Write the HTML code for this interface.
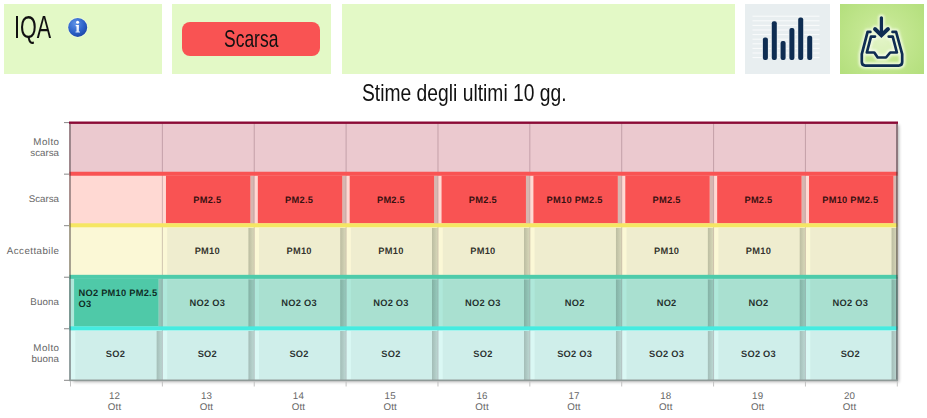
<!DOCTYPE html>
<html><head><meta charset="utf-8"><title>IQA</title>
<style>
html,body{margin:0;padding:0;background:#fff;}
body{width:927px;height:418px;position:relative;overflow:hidden;font-family:"Liberation Sans",sans-serif;}
.abs{position:absolute;}
.box{position:absolute;top:4px;height:69.5px;background:#e3f9c6;}
.nar{position:absolute;white-space:nowrap;transform-origin:0 0;color:#111;line-height:1;}
.ylab{position:absolute;right:868px;text-align:right;font-size:9.75px;text-rendering:geometricPrecision;line-height:11px;color:#666;white-space:nowrap;}
.xlab{position:absolute;width:60px;text-align:center;font-size:9.75px;text-rendering:geometricPrecision;line-height:11.1px;letter-spacing:0.15px;color:#666;top:391px;}
.bl{position:absolute;text-rendering:geometricPrecision;font-weight:bold;font-size:9.3px;line-height:11.2px;color:rgba(0,0,0,0.8);white-space:nowrap;letter-spacing:0.24px;}
.bar{position:absolute;}
.sh{position:absolute;width:5px;background:linear-gradient(90deg,rgba(30,40,30,0.20),rgba(30,40,30,0.33));}
</style></head><body>

<div class="box" style="left:4px;width:157.5px"></div>
<div class="box" style="left:172px;width:158.5px"></div>
<div class="box" style="left:341.5px;width:393.7px"></div>
<div class="box" style="left:745px;width:85px;background:#e8eef0"></div>
<div class="box" style="left:840px;width:83.7px;background:radial-gradient(circle at 50% 50%,#d6f0ae 0%,#c2e68f 45%,#b3df7c 100%)"></div>
<div class="nar" id="iqa" style="left:14.2px;top:11.1px;font-size:32px;transform:scaleX(0.674)">IQA</div>
<svg class="abs" style="left:66px;top:16px" width="24" height="24" viewBox="0 0 24 24">
<defs><radialGradient id="ig" cx="0.38" cy="0.3" r="0.85"><stop offset="0" stop-color="#5e93e6"/><stop offset="0.55" stop-color="#2b61c8"/><stop offset="1" stop-color="#163c98"/></radialGradient>
<linearGradient id="il" x1="0" y1="0" x2="0" y2="1"><stop offset="0" stop-color="#fff"/><stop offset="1" stop-color="#cfe0fa"/></linearGradient></defs>
<circle cx="11.7" cy="11.4" r="10.3" fill="#f3fbe6" opacity="0.6"/>
<circle cx="11.7" cy="11.4" r="9.5" fill="url(#ig)"/>
<circle cx="11.6" cy="6.3" r="1.55" fill="#fff"/>
<path d="M9.7 9.1 H12.9 V15.4 H14 V16.6 H9.5 V15.4 H10.5 V10.3 H9.7 Z" fill="url(#il)"/>
</svg>
<div class="abs" style="left:182px;top:21.6px;width:138px;height:34px;border-radius:8px;background:#f95353"></div>
<div class="nar" id="scarsa" style="left:223.6px;top:27.0px;font-size:24.4px;transform:scaleX(0.716)">Scarsa</div>
<div class="nar" id="title" style="left:361.6px;top:81.2px;font-size:24px;transform:scaleX(0.803)">Stime degli ultimi 10 gg.</div>
<svg class="abs" style="left:745px;top:4px" width="85" height="69.5" viewBox="745 4 85 69.5"><line x1="752.5" x2="819.5" y1="16.2" y2="16.2" stroke="#fff" stroke-width="1" opacity="0.75"/><line x1="752.5" x2="819.5" y1="20.8" y2="20.8" stroke="#fff" stroke-width="1" opacity="0.75"/><line x1="752.5" x2="819.5" y1="25.4" y2="25.4" stroke="#fff" stroke-width="1" opacity="0.75"/><line x1="752.5" x2="819.5" y1="30.0" y2="30.0" stroke="#fff" stroke-width="1" opacity="0.75"/><line x1="752.5" x2="819.5" y1="34.6" y2="34.6" stroke="#fff" stroke-width="1" opacity="0.75"/><line x1="752.5" x2="819.5" y1="39.2" y2="39.2" stroke="#fff" stroke-width="1" opacity="0.75"/><line x1="752.5" x2="819.5" y1="43.8" y2="43.8" stroke="#fff" stroke-width="1" opacity="0.75"/><line x1="752.5" x2="819.5" y1="48.4" y2="48.4" stroke="#fff" stroke-width="1" opacity="0.75"/><line x1="752.5" x2="819.5" y1="53.0" y2="53.0" stroke="#fff" stroke-width="1" opacity="0.75"/><line x1="752.5" x2="819.5" y1="57.6" y2="57.6" stroke="#fff" stroke-width="1" opacity="0.75"/><rect x="762.9" y="37.5" width="5" height="22.6" rx="2" fill="#0f2d52" stroke="#e8eef0" stroke-width="1.4" paint-order="stroke"/><rect x="771.8" y="21.2" width="5" height="38.9" rx="2" fill="#0f2d52" stroke="#e8eef0" stroke-width="1.4" paint-order="stroke"/><rect x="780.6" y="41.1" width="5" height="19.0" rx="2" fill="#0f2d52" stroke="#e8eef0" stroke-width="1.4" paint-order="stroke"/><rect x="789.4" y="27.9" width="5" height="32.2" rx="2" fill="#0f2d52" stroke="#e8eef0" stroke-width="1.4" paint-order="stroke"/><rect x="798.2" y="17.4" width="5" height="42.7" rx="2" fill="#0f2d52" stroke="#e8eef0" stroke-width="1.4" paint-order="stroke"/><rect x="807.2" y="35.8" width="5" height="24.3" rx="2" fill="#0f2d52" stroke="#e8eef0" stroke-width="1.4" paint-order="stroke"/></svg>
<svg class="abs" style="left:840px;top:4px" width="84" height="70" viewBox="840 4 84 70">
<defs><filter id="bl" x="-20%" y="-20%" width="140%" height="140%"><feGaussianBlur stdDeviation="1.1"/></filter></defs>
<g fill="none" stroke="#f1fbe0" stroke-width="6.5" stroke-linejoin="round" stroke-linecap="round" opacity="0.9" filter="url(#bl)"><path d="M870.4 31.9 H867.6 L861.8 54.2 V62.1 Q861.8 65.6 865.3 65.6 H898.7 Q902.2 65.6 902.2 62.1 V54.2 L896.1 31.9 H892.5"/><path d="M875 36.6 H871 L866.8 52.5 H874.3 L877.7 57.5 H886 L890.2 52.5 H896.9 L892.7 36.6 H888.7"/><path d="M881.4 17.8 V34 M875 29 L881.4 35.2 L888 29"/></g>
<path d="M871 36.6 L866.8 52.5 H874.3 L877.7 57.5 H886 L890.2 52.5 H896.9 L892.7 36.6 Z" fill="#fff" opacity="0.3" stroke="none"/>
<g fill="none" stroke="#0f2d52" stroke-width="2.7" stroke-linejoin="round" stroke-linecap="round"><path d="M870.4 31.9 H867.6 L861.8 54.2 V62.1 Q861.8 65.6 865.3 65.6 H898.7 Q902.2 65.6 902.2 62.1 V54.2 L896.1 31.9 H892.5"/><path d="M875 36.6 H871 L866.8 52.5 H874.3 L877.7 57.5 H886 L890.2 52.5 H896.9 L892.7 36.6 H888.7"/></g>
<path d="M881.4 17.8 V34" fill="none" stroke="#0f2d52" stroke-width="3.3" stroke-linecap="round"/>
<path d="M875 29 L881.4 35.2 L888 29" fill="none" stroke="#0f2d52" stroke-width="3.9" stroke-linejoin="miter" stroke-linecap="round"/>
</svg>
<div class="abs" style="left:70.5px;top:122.6px;width:826.8px;height:257.7px;box-shadow:2px 2px 3px rgba(0,0,0,0.3)"></div>
<svg class="abs" style="left:0;top:0" width="927" height="418" viewBox="0 0 927 418"><defs><linearGradient id="shf" x1="0" y1="0" x2="1" y2="0"><stop offset="0" stop-color="#0c1a10" stop-opacity="0.27"/><stop offset="1" stop-color="#0c1a10" stop-opacity="0.15"/></linearGradient></defs><rect x="69.00" y="122.60" width="829.00" height="51.54" fill="#ebc9cf" /><rect x="69.00" y="174.14" width="829.00" height="51.54" fill="#ffd9d3" /><rect x="69.00" y="225.68" width="829.00" height="51.54" fill="#fbf8d6" /><rect x="69.00" y="277.22" width="829.00" height="51.54" fill="#afe8da" /><rect x="69.00" y="328.76" width="829.00" height="51.54" fill="#daf8f4" /><rect x="161.87" y="122.60" width="1.00" height="257.70" fill="rgb(60,20,35)" fill-opacity="0.22"/><rect x="253.73" y="122.60" width="1.00" height="257.70" fill="rgb(60,20,35)" fill-opacity="0.22"/><rect x="345.60" y="122.60" width="1.00" height="257.70" fill="rgb(60,20,35)" fill-opacity="0.22"/><rect x="437.47" y="122.60" width="1.00" height="257.70" fill="rgb(60,20,35)" fill-opacity="0.22"/><rect x="529.33" y="122.60" width="1.00" height="257.70" fill="rgb(60,20,35)" fill-opacity="0.22"/><rect x="621.20" y="122.60" width="1.00" height="257.70" fill="rgb(60,20,35)" fill-opacity="0.22"/><rect x="713.07" y="122.60" width="1.00" height="257.70" fill="rgb(60,20,35)" fill-opacity="0.22"/><rect x="804.93" y="122.60" width="1.00" height="257.70" fill="rgb(60,20,35)" fill-opacity="0.22"/><rect x="158.47" y="279.12" width="3.60" height="48.74" fill="#140a08" fill-opacity="0.17"/><rect x="74.10" y="278.62" width="84.37" height="47.74" fill="#4fc9a8" /><rect x="156.37" y="330.96" width="5.60" height="50.04" fill="url(#shf)" /><rect x="75.30" y="330.96" width="81.07" height="48.54" fill="#cfeeea" /><rect x="250.33" y="176.04" width="3.60" height="48.74" fill="#140a08" fill-opacity="0.17"/><rect x="165.97" y="175.54" width="84.37" height="47.74" fill="#f95353" /><rect x="248.23" y="227.88" width="5.60" height="48.44" fill="url(#shf)" /><rect x="167.17" y="227.88" width="81.07" height="46.94" fill="#efedcf" /><rect x="248.23" y="279.42" width="5.60" height="48.44" fill="url(#shf)" /><rect x="167.17" y="279.42" width="81.07" height="46.94" fill="#a9e0d0" /><rect x="248.23" y="330.96" width="5.60" height="50.04" fill="url(#shf)" /><rect x="167.17" y="330.96" width="81.07" height="48.54" fill="#cfeeea" /><rect x="342.20" y="176.04" width="3.60" height="48.74" fill="#140a08" fill-opacity="0.17"/><rect x="257.83" y="175.54" width="84.37" height="47.74" fill="#f95353" /><rect x="340.10" y="227.88" width="5.60" height="48.44" fill="url(#shf)" /><rect x="259.03" y="227.88" width="81.07" height="46.94" fill="#efedcf" /><rect x="340.10" y="279.42" width="5.60" height="48.44" fill="url(#shf)" /><rect x="259.03" y="279.42" width="81.07" height="46.94" fill="#a9e0d0" /><rect x="340.10" y="330.96" width="5.60" height="50.04" fill="url(#shf)" /><rect x="259.03" y="330.96" width="81.07" height="48.54" fill="#cfeeea" /><rect x="434.07" y="176.04" width="3.60" height="48.74" fill="#140a08" fill-opacity="0.17"/><rect x="349.70" y="175.54" width="84.37" height="47.74" fill="#f95353" /><rect x="431.97" y="227.88" width="5.60" height="48.44" fill="url(#shf)" /><rect x="350.90" y="227.88" width="81.07" height="46.94" fill="#efedcf" /><rect x="431.97" y="279.42" width="5.60" height="48.44" fill="url(#shf)" /><rect x="350.90" y="279.42" width="81.07" height="46.94" fill="#a9e0d0" /><rect x="431.97" y="330.96" width="5.60" height="50.04" fill="url(#shf)" /><rect x="350.90" y="330.96" width="81.07" height="48.54" fill="#cfeeea" /><rect x="525.93" y="176.04" width="3.60" height="48.74" fill="#140a08" fill-opacity="0.17"/><rect x="441.57" y="175.54" width="84.37" height="47.74" fill="#f95353" /><rect x="523.83" y="227.88" width="5.60" height="48.44" fill="url(#shf)" /><rect x="442.77" y="227.88" width="81.07" height="46.94" fill="#efedcf" /><rect x="523.83" y="279.42" width="5.60" height="48.44" fill="url(#shf)" /><rect x="442.77" y="279.42" width="81.07" height="46.94" fill="#a9e0d0" /><rect x="523.83" y="330.96" width="5.60" height="50.04" fill="url(#shf)" /><rect x="442.77" y="330.96" width="81.07" height="48.54" fill="#cfeeea" /><rect x="617.80" y="176.04" width="3.60" height="48.74" fill="#140a08" fill-opacity="0.17"/><rect x="533.43" y="175.54" width="84.37" height="47.74" fill="#f95353" /><rect x="615.70" y="227.88" width="5.60" height="48.44" fill="url(#shf)" /><rect x="534.63" y="227.88" width="81.07" height="46.94" fill="#efedcf" /><rect x="615.70" y="279.42" width="5.60" height="48.44" fill="url(#shf)" /><rect x="534.63" y="279.42" width="81.07" height="46.94" fill="#a9e0d0" /><rect x="615.70" y="330.96" width="5.60" height="50.04" fill="url(#shf)" /><rect x="534.63" y="330.96" width="81.07" height="48.54" fill="#cfeeea" /><rect x="709.67" y="176.04" width="3.60" height="48.74" fill="#140a08" fill-opacity="0.17"/><rect x="625.30" y="175.54" width="84.37" height="47.74" fill="#f95353" /><rect x="707.57" y="227.88" width="5.60" height="48.44" fill="url(#shf)" /><rect x="626.50" y="227.88" width="81.07" height="46.94" fill="#efedcf" /><rect x="707.57" y="279.42" width="5.60" height="48.44" fill="url(#shf)" /><rect x="626.50" y="279.42" width="81.07" height="46.94" fill="#a9e0d0" /><rect x="707.57" y="330.96" width="5.60" height="50.04" fill="url(#shf)" /><rect x="626.50" y="330.96" width="81.07" height="48.54" fill="#cfeeea" /><rect x="801.53" y="176.04" width="3.60" height="48.74" fill="#140a08" fill-opacity="0.17"/><rect x="717.17" y="175.54" width="84.37" height="47.74" fill="#f95353" /><rect x="799.43" y="227.88" width="5.60" height="48.44" fill="url(#shf)" /><rect x="718.37" y="227.88" width="81.07" height="46.94" fill="#efedcf" /><rect x="799.43" y="279.42" width="5.60" height="48.44" fill="url(#shf)" /><rect x="718.37" y="279.42" width="81.07" height="46.94" fill="#a9e0d0" /><rect x="799.43" y="330.96" width="5.60" height="50.04" fill="url(#shf)" /><rect x="718.37" y="330.96" width="81.07" height="48.54" fill="#cfeeea" /><rect x="893.40" y="176.04" width="3.60" height="48.74" fill="#140a08" fill-opacity="0.17"/><rect x="809.03" y="175.54" width="84.37" height="47.74" fill="#f95353" /><rect x="891.30" y="227.88" width="5.60" height="48.44" fill="url(#shf)" /><rect x="810.23" y="227.88" width="81.07" height="46.94" fill="#efedcf" /><rect x="891.30" y="279.42" width="5.60" height="48.44" fill="url(#shf)" /><rect x="810.23" y="279.42" width="81.07" height="46.94" fill="#a9e0d0" /><rect x="891.30" y="330.96" width="5.60" height="50.04" fill="url(#shf)" /><rect x="810.23" y="330.96" width="81.07" height="48.54" fill="#cfeeea" /><rect x="69.50" y="171.74" width="828.00" height="4.00" fill="#f95353" /><rect x="69.50" y="223.28" width="828.00" height="4.00" fill="#f5e663" /><rect x="69.50" y="274.82" width="828.00" height="4.00" fill="#4ecbaa" /><rect x="69.50" y="326.36" width="828.00" height="4.00" fill="#45ebe0" /><rect x="69.00" y="121.50" width="829.00" height="2.40" fill="#8b0a36" /><rect x="69.00" y="123.90" width="2.00" height="257.20" fill="rgb(60,50,55)" fill-opacity="0.44"/><rect x="896.00" y="123.90" width="2.00" height="257.20" fill="rgb(50,40,45)" fill-opacity="0.5"/><rect x="69.00" y="379.50" width="829.00" height="1.60" fill="#8f9a98" /><rect x="64.00" y="122.10" width="5.00" height="1.00" fill="#888" /><rect x="64.00" y="173.64" width="5.00" height="1.00" fill="#888" /><rect x="64.00" y="225.18" width="5.00" height="1.00" fill="#888" /><rect x="64.00" y="276.72" width="5.00" height="1.00" fill="#888" /><rect x="64.00" y="328.26" width="5.00" height="1.00" fill="#888" /><rect x="64.00" y="379.80" width="5.00" height="1.00" fill="#888" /><rect x="70.00" y="381.00" width="1.00" height="5.50" fill="#c2c2c2" /><rect x="161.87" y="381.00" width="1.00" height="5.50" fill="#c2c2c2" /><rect x="253.73" y="381.00" width="1.00" height="5.50" fill="#c2c2c2" /><rect x="345.60" y="381.00" width="1.00" height="5.50" fill="#c2c2c2" /><rect x="437.47" y="381.00" width="1.00" height="5.50" fill="#c2c2c2" /><rect x="529.33" y="381.00" width="1.00" height="5.50" fill="#c2c2c2" /><rect x="621.20" y="381.00" width="1.00" height="5.50" fill="#c2c2c2" /><rect x="713.07" y="381.00" width="1.00" height="5.50" fill="#c2c2c2" /><rect x="804.93" y="381.00" width="1.00" height="5.50" fill="#c2c2c2" /><rect x="896.80" y="381.00" width="1.00" height="5.50" fill="#c2c2c2" /></svg>
<div class="ylab" style="top:136.5px"><span style="letter-spacing:0.45px;margin-right:-0.45px">Molto</span><br>scarsa</div>
<div class="ylab" style="top:193.5px">Scarsa</div>
<div class="ylab" style="top:246.1px"><span style="letter-spacing:0.45px;margin-right:-0.45px">Accettabile</span></div>
<div class="ylab" style="top:296.6px"><span style="letter-spacing:0.12px;margin-right:-0.12px">Buona</span></div>
<div class="ylab" style="top:342.6px"><span style="letter-spacing:0.45px;margin-right:-0.45px">Molto</span><br><span style="letter-spacing:0.12px;margin-right:-0.12px">buona</span></div>
<div class="xlab" style="left:84.6px">12<br>Ott</div>
<div class="xlab" style="left:176.5px">13<br>Ott</div>
<div class="xlab" style="left:268.4px">14<br>Ott</div>
<div class="xlab" style="left:360.2px">15<br>Ott</div>
<div class="xlab" style="left:452.1px">16<br>Ott</div>
<div class="xlab" style="left:544.0px">17<br>Ott</div>
<div class="xlab" style="left:635.8px">18<br>Ott</div>
<div class="xlab" style="left:727.7px">19<br>Ott</div>
<div class="xlab" style="left:819.6px">20<br>Ott</div>
<div class="bl" style="left:78.5px;top:288.3px;line-height:11px">NO2 PM10 PM2.5<br>O3</div>
<div class="bl" style="left:73.6px;top:349.3px;width:83.6px;text-align:center">SO2</div>
<div class="bl" style="left:165.5px;top:194.7px;width:83.6px;text-align:center">PM2.5</div>
<div class="bl" style="left:165.5px;top:246.3px;width:83.6px;text-align:center">PM10</div>
<div class="bl" style="left:165.5px;top:297.8px;width:83.6px;text-align:center">NO2 O3</div>
<div class="bl" style="left:165.5px;top:349.3px;width:83.6px;text-align:center">SO2</div>
<div class="bl" style="left:257.3px;top:194.7px;width:83.6px;text-align:center">PM2.5</div>
<div class="bl" style="left:257.3px;top:246.3px;width:83.6px;text-align:center">PM10</div>
<div class="bl" style="left:257.3px;top:297.8px;width:83.6px;text-align:center">NO2 O3</div>
<div class="bl" style="left:257.3px;top:349.3px;width:83.6px;text-align:center">SO2</div>
<div class="bl" style="left:349.2px;top:194.7px;width:83.6px;text-align:center">PM2.5</div>
<div class="bl" style="left:349.2px;top:246.3px;width:83.6px;text-align:center">PM10</div>
<div class="bl" style="left:349.2px;top:297.8px;width:83.6px;text-align:center">NO2 O3</div>
<div class="bl" style="left:349.2px;top:349.3px;width:83.6px;text-align:center">SO2</div>
<div class="bl" style="left:441.1px;top:194.7px;width:83.6px;text-align:center">PM2.5</div>
<div class="bl" style="left:441.1px;top:246.3px;width:83.6px;text-align:center">PM10</div>
<div class="bl" style="left:441.1px;top:297.8px;width:83.6px;text-align:center">NO2 O3</div>
<div class="bl" style="left:441.1px;top:349.3px;width:83.6px;text-align:center">SO2</div>
<div class="bl" style="left:532.9px;top:194.7px;width:83.6px;text-align:center">PM10 PM2.5</div>
<div class="bl" style="left:532.9px;top:297.8px;width:83.6px;text-align:center">NO2</div>
<div class="bl" style="left:532.9px;top:349.3px;width:83.6px;text-align:center">SO2 O3</div>
<div class="bl" style="left:624.8px;top:194.7px;width:83.6px;text-align:center">PM2.5</div>
<div class="bl" style="left:624.8px;top:246.3px;width:83.6px;text-align:center">PM10</div>
<div class="bl" style="left:624.8px;top:297.8px;width:83.6px;text-align:center">NO2</div>
<div class="bl" style="left:624.8px;top:349.3px;width:83.6px;text-align:center">SO2 O3</div>
<div class="bl" style="left:716.7px;top:194.7px;width:83.6px;text-align:center">PM2.5</div>
<div class="bl" style="left:716.7px;top:246.3px;width:83.6px;text-align:center">PM10</div>
<div class="bl" style="left:716.7px;top:297.8px;width:83.6px;text-align:center">NO2</div>
<div class="bl" style="left:716.7px;top:349.3px;width:83.6px;text-align:center">SO2 O3</div>
<div class="bl" style="left:808.5px;top:194.7px;width:83.6px;text-align:center">PM10 PM2.5</div>
<div class="bl" style="left:808.5px;top:297.8px;width:83.6px;text-align:center">NO2 O3</div>
<div class="bl" style="left:808.5px;top:349.3px;width:83.6px;text-align:center">SO2</div>
</body></html>
